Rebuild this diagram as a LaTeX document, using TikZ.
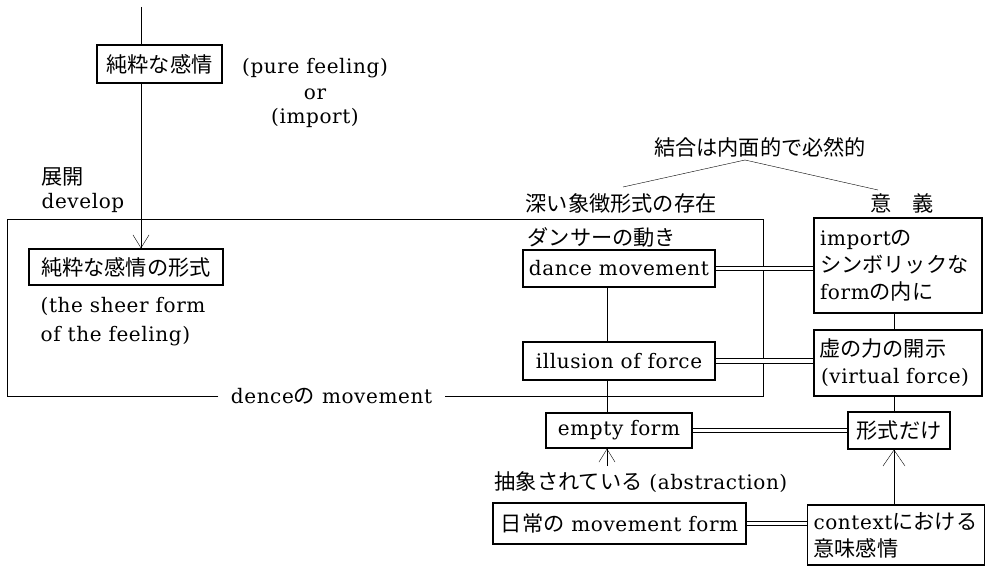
\documentclass[tikz,border=0pt]{standalone}
\usepackage{fontspec}
\setmainfont{DejaVu Serif}[LetterSpace=3]
\newfontfamily\jp{Noto Sans CJK JP}[Scale=1.06]
\newcommand\J[1]{{\jp #1}}
\usetikzlibrary{arrows.meta,backgrounds}
\begin{document}
\begin{tikzpicture}[x=1bp,y=-1bp,line width=1.3bp,
  every node/.style={font=\fontsize{20bp}{27bp}\selectfont, inner sep=0pt},
  box/.style={draw, line width=1.3bp},
  dbl/.style={double, double distance=3.4bp, line width=1.1bp},
  barb/.style={-{Straight Barb[length=13bp,width=16bp]}},
  bigbarb/.style={-{Straight Barb[length=16bp,width=22bp]}}]
\useasboundingbox (0,0) rectangle (989,567);

% coordinates
\coordinate (topc) at (141,7);
\coordinate (vx) at (607,0);
\coordinate (vr) at (894,0);
\coordinate (absc) at (607,466);
\coordinate (otl) at (7,219);
\coordinate (otr) at (763,219);
\coordinate (obl) at (7,396);
\coordinate (obr) at (763,396);
\coordinate (apex) at (745,160);
\coordinate (lend) at (623,187);
\coordinate (rend) at (878,190);

% boxes
\node[box, minimum width=125bp, minimum height=38bp] (pure) at (159.5,64) {\J{純粋な感情}};
\node[box, minimum width=194bp, minimum height=36bp] (form) at (126,267) {\J{純粋な感情の形式}};
\node[box, minimum width=192bp, minimum height=37bp] (dm) at (619,268.5) {dance movement};
\node[box, minimum width=192bp, minimum height=38bp] (ill) at (619,361) {illusion of force};
\node[box, text width=156bp, inner xsep=6bp, minimum height=95bp, align=left] (imp) at (898,265.5)
  {import\J{の}\\\J{シンボリックな}\\form\J{の内に}};
\node[box, text width=158bp, inner xsep=5bp, minimum height=66bp, align=left] (virt) at (898,363)
  {\J{虚の力の開示}\\\hspace{2bp}(virtual force)};
\node[box, minimum width=146bp, minimum height=35bp] (empty) at (619,430.5) {empty form};
\node[box, minimum width=102bp, minimum height=37bp] (kei) at (899,430.5) {\J{形式だけ}};
\node[box, minimum width=253bp, minimum height=41bp] (nichi) at (619.5,523.5) {\J{日常の} movement form};
\node[box, text width=165bp, inner xsep=6bp, minimum height=60bp, align=left] (ctx) at (896,535)
  {context\J{における}\\\J{意味感情}};

% free texts
\node (pf) at (315,68) {(pure feeling)};
\node (ortxt) at (315,94) {or};
\node (imptxt) at (315,118) {(import)};
\node[anchor=west] (tenkai) at (41,177) {\J{展開}};
\node[anchor=base west] (develop) at (41,209) {develop};
\node[anchor=west, align=left] (sheer) at (40,322) {(the sheer form\\[2bp]of the feeling)};
\node[inner xsep=12bp] (dlabel) at (331.5,396) {dence\J{の} movement};
\node (ketsugo) at (760,147) {\J{結合は内面的で必然的}};
\node (fukai) at (621,203) {\J{深い象徴形式の存在}};
\node (igi) at (902,203) {\J{意　義}};
\node[anchor=west] (dancer) at (527,237) {\J{ダンサーの動き}};
\node (abstr) at (641,482) {\J{抽象されている} (abstraction)};

\begin{pgfonlayer}{background}
% outer frame
\draw (dlabel.west |- obl) -- (obl) -- (otl) -- (otr) -- (obr) -- (dlabel.east |- obr);
% top chain
\draw (topc) -- (pure.north -| topc);
\draw[barb] (pure.south -| topc) -- (form.north -| topc);
% left column
\draw (dm.south -| vx) -- (ill.north -| vx);
\draw (ill.south -| vx) -- (empty.north -| vx);
\draw[barb] (absc) -- (empty.south -| absc);
% right column
\draw (imp.south -| vr) -- (virt.north -| vr);
\draw (virt.south -| vr) -- (kei.north -| vr);
\draw[bigbarb] (ctx.north -| vr) -- (kei.south -| vr);
% double links
\draw[dbl] (dm.east) -- (imp.west |- dm.east);
\draw[dbl] (ill.east) -- (virt.west |- ill.east);
\draw[dbl] (empty.east) -- (kei.west |- empty.east);
\draw[dbl] (nichi.east) -- (ctx.west |- nichi.east);
% apex lines
\draw (lend) -- (apex) -- (rend);
\end{pgfonlayer}
\end{tikzpicture}
\end{document}
